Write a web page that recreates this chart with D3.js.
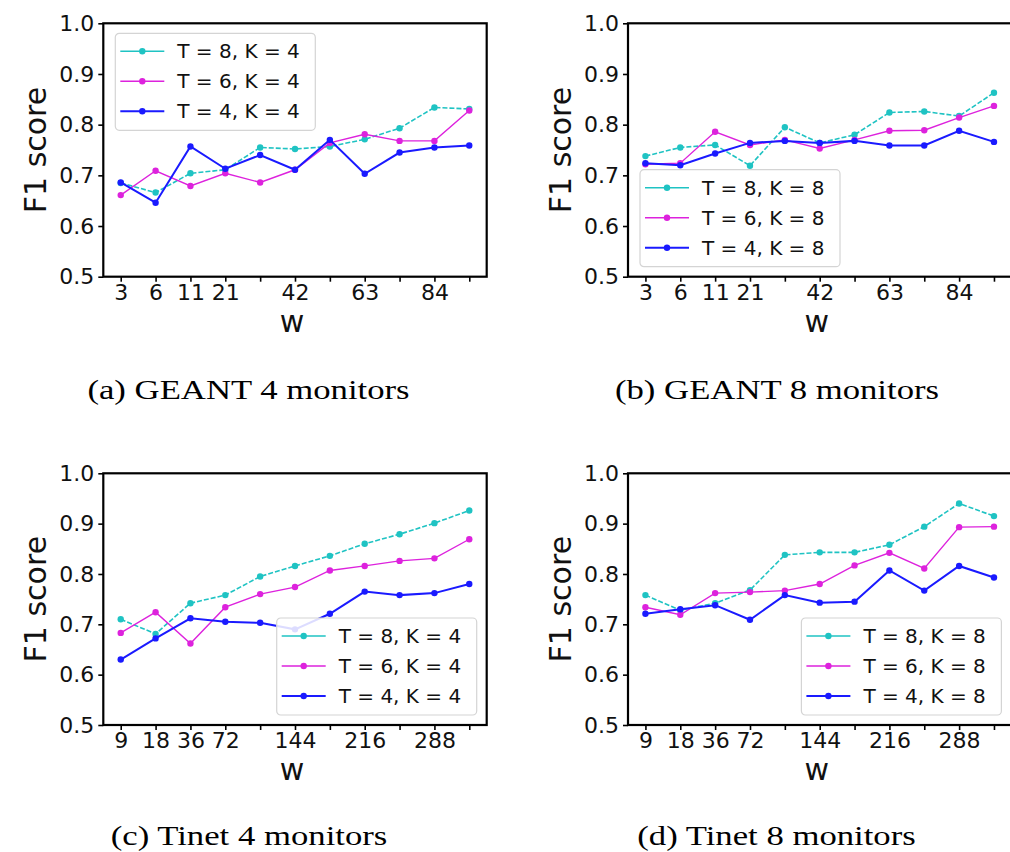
<!DOCTYPE html>
<html>
<head>
<meta charset="utf-8">
<script src="https://cdn.jsdelivr.net/npm/d3@7"></script>
<style>
  body { margin: 0; background: #fff; }
  svg { display: block; }
</style>
</head>
<body>
<svg id="chart"></svg>
<script>
// tick labels (only some of the 11 positions get a label)
const geantTicks = ['3', '6', '11', '21', '', '42', '', '63', '', '84', ''];
const tinetTicks = ['9', '18', '36', '72', '', '144', '', '216', '', '288', ''];
const yTicks = [0.5, 0.6, 0.7, 0.8, 0.9, 1.0];

const legendK4 = ['T = 8, K = 4', 'T = 6, K = 4', 'T = 4, K = 4'];
const legendK8 = ['T = 8, K = 8', 'T = 6, K = 8', 'T = 4, K = 8'];

// (a) GEANT 4 monitors
const geant4T8 = [0.685, 0.666, 0.704, 0.711, 0.755, 0.752, 0.757, 0.771, 0.793, 0.834, 0.831];
const geant4T6 = [0.661, 0.709, 0.679, 0.704, 0.686, 0.711, 0.764, 0.781, 0.768, 0.768, 0.828];
const geant4T4 = [0.686, 0.646, 0.757, 0.713, 0.740, 0.711, 0.770, 0.703, 0.745, 0.755, 0.759];

// (b) GEANT 8 monitors
const geant8T8 = [0.738, 0.755, 0.760, 0.719, 0.795, 0.764, 0.780, 0.824, 0.826, 0.817, 0.863];
const geant8T6 = [0.722, 0.724, 0.786, 0.760, 0.770, 0.753, 0.770, 0.788, 0.789, 0.814, 0.837];
const geant8T4 = [0.724, 0.720, 0.743, 0.764, 0.768, 0.764, 0.768, 0.759, 0.759, 0.788, 0.766];

// (c) Tinet 4 monitors
const tinet4T8 = [0.710, 0.681, 0.742, 0.758, 0.795, 0.816, 0.836, 0.860, 0.879, 0.901, 0.926];
const tinet4T6 = [0.683, 0.724, 0.662, 0.734, 0.760, 0.774, 0.807, 0.816, 0.826, 0.831, 0.869];
const tinet4T4 = [0.630, 0.672, 0.712, 0.705, 0.703, 0.690, 0.721, 0.765, 0.758, 0.762, 0.780];

// (d) Tinet 8 monitors
const tinet8T8 = [0.758, 0.728, 0.742, 0.768, 0.838, 0.843, 0.843, 0.858, 0.894, 0.940, 0.915];
const tinet8T6 = [0.734, 0.719, 0.762, 0.764, 0.767, 0.780, 0.817, 0.842, 0.811, 0.893, 0.894];
const tinet8T4 = [0.721, 0.730, 0.738, 0.709, 0.758, 0.743, 0.745, 0.807, 0.767, 0.816, 0.793];

const width = 1010;
const height = 852;
const plotW = 383.4;

const colors = ['#1fc3c3', '#dd22dd', '#1a1aff'];
const dashes = ['5,2', null, null];
const strokeW = [1.6, 1.4, 2];

const panels = [
  { left: 103.3, top: 23.3, bottom: 276.7, ticks: geantTicks, series: [geant4T8, geant4T6, geant4T4],
    names: legendK4, legend: 'upperleft', caption: '(a) GEANT 4 monitors', capX: 248.5, capY: 399 },
  { left: 628, top: 23.3, bottom: 276.7, ticks: geantTicks, series: [geant8T8, geant8T6, geant8T4],
    names: legendK8, legend: 'lowerleft', caption: '(b) GEANT 8 monitors', capX: 777, capY: 399 },
  { left: 103.3, top: 473.3, bottom: 725, ticks: tinetTicks, series: [tinet4T8, tinet4T6, tinet4T4],
    names: legendK4, legend: 'lowerright', caption: '(c) Tinet 4 monitors', capX: 249, capY: 845 },
  { left: 628, top: 473.3, bottom: 725, ticks: tinetTicks, series: [tinet8T8, tinet8T6, tinet8T4],
    names: legendK8, legend: 'lowerright', caption: '(d) Tinet 8 monitors', capX: 776.5, capY: 845 }
];

const svg = d3.select('#chart')
  .attr('width', width)
  .attr('height', height)
  .style('font-family', '"DejaVu Sans", sans-serif');

svg.append('rect').attr('width', width).attr('height', height).attr('fill', '#fff');

const drawPanel = (p) => {
  const right = p.left + plotW;
  const idx = d3.range(p.ticks.length);

  const x = d3.scalePoint().domain(idx).range([p.left, right]).padding(0.5);
  const y = d3.scaleLinear().domain([0.5, 1.0]).range([p.bottom, p.top]);

  const g = svg.append('g');

  // eixos
  const yAxis = d3.axisLeft(y).tickValues(yTicks).tickFormat(d3.format('.1f')).tickSize(5).tickPadding(4);
  const xAxis = d3.axisBottom(x).tickFormat(i => p.ticks[i]).tickSize(5).tickPadding(3);

  const ya = g.append('g').attr('transform', `translate(${p.left},0)`).call(yAxis);
  const xa = g.append('g').attr('transform', `translate(0,${p.bottom})`).call(xAxis);
  [ya, xa].forEach(a => {
    a.select('.domain').remove();
    a.selectAll('.tick line').attr('stroke', '#000').attr('stroke-width', 1.6);
    a.selectAll('.tick text').attr('fill', '#111').style('font-size', '22px')
      .style('font-family', '"DejaVu Sans", sans-serif');
  });
  xa.selectAll('.tick text').attr('dy', '0.7em');

  // moldura
  g.append('rect')
    .attr('x', p.left).attr('y', p.top)
    .attr('width', plotW).attr('height', p.bottom - p.top)
    .attr('fill', 'none').attr('stroke', '#000').attr('stroke-width', 2.2);

  // linhas
  const line = d3.line().x((d, i) => x(i)).y(d => y(d));
  p.series.forEach((s, k) => {
    g.append('path')
      .datum(s)
      .attr('d', line)
      .attr('fill', 'none')
      .attr('stroke', colors[k])
      .attr('stroke-width', strokeW[k])
      .attr('stroke-dasharray', dashes[k]);
    g.selectAll(null)
      .data(s)
      .enter()
      .append('circle')
      .attr('cx', (d, i) => x(i))
      .attr('cy', d => y(d))
      .attr('r', 3.2)
      .attr('fill', colors[k]);
  });

  // legenda
  const lw = 200, lh = 97;
  let lx, ly;
  if (p.legend === 'upperleft') { lx = p.left + 12; ly = p.top + 10; }
  if (p.legend === 'lowerleft') { lx = p.left + 12; ly = p.bottom - 10 - lh; }
  if (p.legend === 'lowerright') { lx = right - 10 - lw; ly = p.bottom - 10 - lh; }

  const leg = g.append('g').attr('transform', `translate(${lx},${ly})`);
  leg.append('rect')
    .attr('width', lw).attr('height', lh).attr('rx', 4)
    .attr('fill', '#fff').attr('fill-opacity', 0.85)
    .attr('stroke', '#d4d4d4').attr('stroke-width', 1.2);
  p.names.forEach((name, k) => {
    const ry = 18 + k * 30;
    leg.append('line')
      .attr('x1', 5).attr('x2', 49).attr('y1', ry).attr('y2', ry)
      .attr('stroke', colors[k]).attr('stroke-width', strokeW[k]);
    leg.append('circle').attr('cx', 27).attr('cy', ry).attr('r', 3.2).attr('fill', colors[k]);
    leg.append('text')
      .attr('x', 62).attr('y', ry).attr('dy', '0.36em')
      .style('font-size', '20px').attr('fill', '#111')
      .text(name);
  });

  // rótulos dos eixos
  g.append('text')
    .attr('transform', `translate(${p.left - 68},${(p.top + p.bottom) / 2}) rotate(-90)`)
    .attr('text-anchor', 'middle').attr('dy', '0.36em')
    .style('font-size', '30px').attr('fill', '#111')
    .text('F1 score');
  g.append('text')
    .attr('x', (p.left + right) / 2 - 3).attr('y', p.bottom + 55)
    .attr('text-anchor', 'middle')
    .style('font-size', '30px').attr('fill', '#111')
    .text('w');

  // legenda da figura (serif, levemente esticada)
  g.append('text')
    .attr('transform', `translate(${p.capX},${p.capY}) scale(1.24,1)`)
    .attr('text-anchor', 'middle')
    .style('font-family', '"Liberation Serif", "Times New Roman", serif')
    .style('font-size', '28px').attr('fill', '#000')
    .text(p.caption);
};

panels.forEach(drawPanel);
</script>
</body>
</html>
